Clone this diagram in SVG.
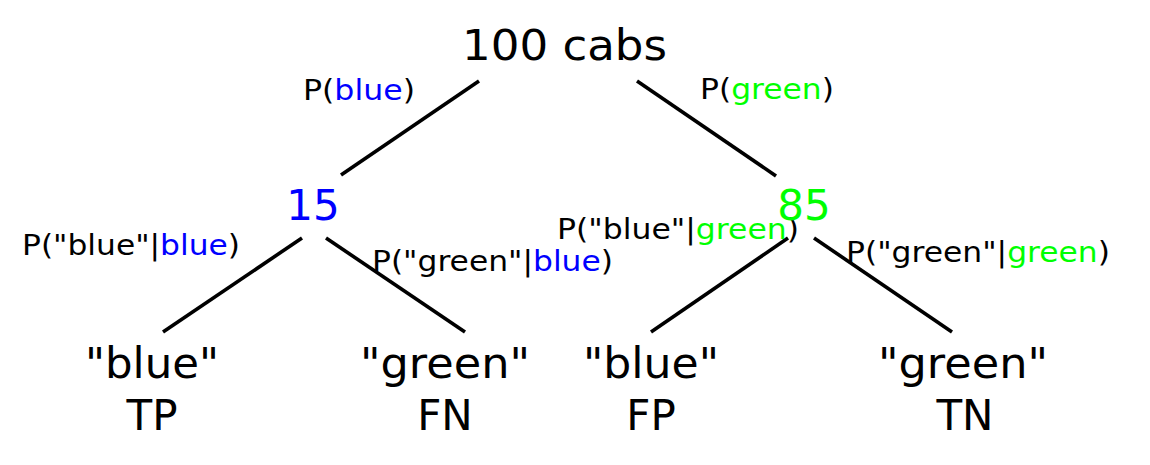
<svg xmlns="http://www.w3.org/2000/svg" width="1150" height="465" viewBox="0 0 1150 465">
<style>
text{font-family:"DejaVu Sans",sans-serif;fill:#000;text-anchor:start}
.big{font-size:42px}
.c{text-anchor:middle}
.lbl{font-size:28px}
.b{fill:#0000ff}
.g{fill:#00ff00}
line{stroke:#000;stroke-width:3.6}
</style>
<rect width="1150" height="465" fill="#fff"/>
<g id="connectors">
<line x1="479" y1="81" x2="341" y2="175"/>
<line x1="637" y1="81" x2="776" y2="176"/>
<line x1="302" y1="238" x2="163" y2="332"/>
<line x1="326" y1="238" x2="465" y2="332"/>
<line x1="788" y1="238" x2="651" y2="332"/>
<line x1="814" y1="238" x2="952" y2="332"/>
</g>
<g id="edge-labels">
<text class="lbl" x="303" y="100" textLength="112" lengthAdjust="spacingAndGlyphs">P(<tspan class="b">blue</tspan>)</text>
<text class="lbl" x="700" y="99" textLength="134" lengthAdjust="spacingAndGlyphs">P(<tspan class="g">green</tspan>)</text>
<text class="lbl" x="22" y="255" textLength="218" lengthAdjust="spacingAndGlyphs">P("blue"|<tspan class="b">blue</tspan>)</text>
<text class="lbl" x="372" y="271" textLength="241" lengthAdjust="spacingAndGlyphs">P("green"|<tspan class="b">blue</tspan>)</text>
<text class="lbl" x="557" y="239" textLength="242" lengthAdjust="spacingAndGlyphs">P("blue"|<tspan class="g">green</tspan>)</text>
<text class="lbl" x="846" y="262" textLength="264" lengthAdjust="spacingAndGlyphs">P("green"|<tspan class="g">green</tspan>)</text>
</g>
<g id="root"><text class="big" x="462" y="60" textLength="205" lengthAdjust="spacingAndGlyphs">100 cabs</text></g>
<g id="n15"><text class="big b c" x="313" y="220">15</text></g>
<g id="n85"><text class="big g c" x="804" y="220">85</text></g>
<g id="tp"><text class="big" x="85" y="378" textLength="134" lengthAdjust="spacingAndGlyphs">"blue"</text><text class="big c" x="152" y="430">TP</text></g>
<g id="fn"><text class="big" x="360" y="378" textLength="170" lengthAdjust="spacingAndGlyphs">"green"</text><text class="big c" x="445" y="430">FN</text></g>
<g id="fp"><text class="big" x="583" y="378" textLength="136" lengthAdjust="spacingAndGlyphs">"blue"</text><text class="big c" x="651" y="430">FP</text></g>
<g id="tn"><text class="big" x="878" y="378" textLength="170" lengthAdjust="spacingAndGlyphs">"green"</text><text class="big c" x="965" y="430">TN</text></g>
</svg>
